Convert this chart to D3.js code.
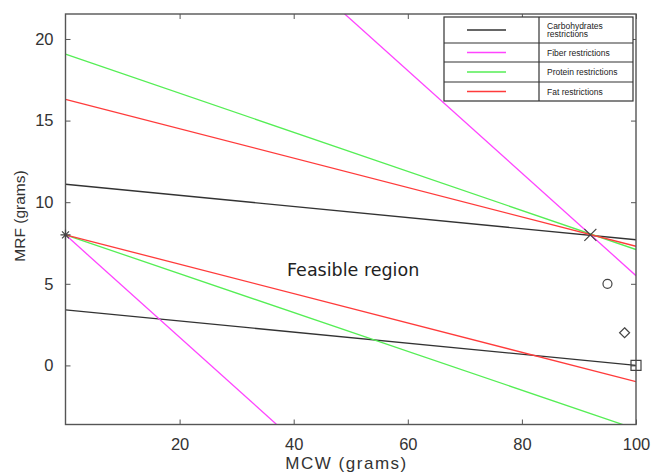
<!DOCTYPE html>
<html>
<head>
<meta charset="utf-8">
<script src="https://cdn.jsdelivr.net/npm/d3@7"></script>
<style>
  body { margin: 0; background: #fff; }
  svg { display: block; }
</style>
</head>
<body>
<svg id="chart" width="651" height="473"></svg>
<script>
// restriction lines, each given by its value at MCW = 0 and MCW = 100
const categories = ["Carbohydrates restrictions", "Fiber restrictions", "Protein restrictions", "Fat restrictions"];
const lowerAt0 = [3.4, 8, 8, 8];
const lowerAt100 = [0, -23.4, -3.9, -1.0];
const upperAt0 = [11.1, 36.9, 19.07, 16.3];
const upperAt100 = [7.7, 5.5, 7.1, 7.3];
const lineColors = ["#333333", "#ff44ff", "#55ee55", "#ff3b3b"];

// marked points
const pointX = [0, 92, 95, 98, 100];
const pointY = [8, 8, 5, 2, 0];
const pointSymbols = ["asterisk", "cross", "circle", "diamond", "square"];

const xTicks = [20, 40, 60, 80, 100];
const yTicks = [0, 5, 10, 15, 20];

const svg = d3.select("#chart");
const plotLeft = 65.5, plotRight = 636, plotTop = 14, plotBottom = 424.5;
const sansFont = "'Liberation Sans', Arial, Helvetica, sans-serif";

const x = d3.scaleLinear().domain([0, 100]).range([plotLeft, plotRight]);
const y = d3.scaleLinear().domain([-3.62, 21.53]).range([plotBottom, plotTop]);

svg.append("defs").append("clipPath").attr("id", "plotclip")
  .append("rect")
  .attr("x", plotLeft).attr("y", plotTop)
  .attr("width", plotRight - plotLeft).attr("height", plotBottom - plotTop);

const axisColor = "#555";
const labelColor = "#333";

// axes (ticks point inward, mirrored on top/right)
function styleAxis(g) {
  g.select(".domain").remove();
  g.attr("font-family", null).attr("font-size", null);
  g.selectAll(".tick line").attr("stroke", axisColor).attr("stroke-width", 1);
  g.selectAll(".tick text")
    .attr("fill", labelColor)
    .style("font-family", sansFont)
    .style("font-size", "16.5px");
}

svg.append("g")
  .attr("transform", `translate(0,${plotBottom})`)
  .call(d3.axisBottom(x).tickValues(xTicks).tickSize(-5).tickPadding(14))
  .call(styleAxis);

svg.append("g")
  .attr("transform", `translate(0,${plotTop})`)
  .call(d3.axisTop(x).tickValues(xTicks).tickSize(-5).tickFormat(""))
  .call(styleAxis);

svg.append("g")
  .attr("transform", `translate(${plotLeft},0)`)
  .call(d3.axisLeft(y).tickValues(yTicks).tickSize(-5).tickPadding(12))
  .call(styleAxis);

svg.append("g")
  .attr("transform", `translate(${plotRight},0)`)
  .call(d3.axisRight(y).tickValues(yTicks).tickSize(-5).tickFormat(""))
  .call(styleAxis);

// restriction lines
const lines = [];
categories.forEach((c, i) => {
  lines.push({ y0: lowerAt0[i], y1: lowerAt100[i], color: lineColors[i] });
  lines.push({ y0: upperAt0[i], y1: upperAt100[i], color: lineColors[i] });
});

svg.append("g")
  .attr("clip-path", "url(#plotclip)")
  .selectAll("line")
  .data(lines)
  .enter().append("line")
  .attr("x1", x(0))
  .attr("y1", d => y(d.y0))
  .attr("x2", x(100))
  .attr("y2", d => y(d.y1))
  .attr("stroke", d => d.color)
  .attr("stroke-width", 1.3);

// frame
svg.append("rect")
  .attr("x", plotLeft).attr("y", plotTop)
  .attr("width", plotRight - plotLeft).attr("height", plotBottom - plotTop)
  .attr("fill", "none")
  .attr("stroke", axisColor)
  .attr("stroke-width", 1.4);

// point markers
const symbolPath = {
  asterisk: "M-5,0H5M0,-5V5M-3.5,-3.5L3.5,3.5M-3.5,3.5L3.5,-3.5",
  cross: "M-6,-6L6,6M-6,6L6,-6",
  circle: "M4.5,0A4.5,4.5 0 1,1 -4.5,0A4.5,4.5 0 1,1 4.5,0Z",
  diamond: "M0,-5L5,0L0,5L-5,0Z",
  square: "M-5,-5H5V5H-5Z"
};

svg.append("g")
  .selectAll("path")
  .data(pointX.map((v, i) => ({ x: v, y: pointY[i], s: pointSymbols[i] })))
  .enter().append("path")
  .attr("transform", d => `translate(${x(d.x)},${y(d.y)})`)
  .attr("d", d => symbolPath[d.s])
  .attr("fill", "none")
  .attr("stroke", "#444")
  .attr("stroke-width", 1.2);

// axis titles
svg.append("text")
  .attr("x", (plotLeft + plotRight) / 2 - 5)
  .attr("y", 469)
  .attr("text-anchor", "middle")
  .attr("fill", labelColor)
  .style("font-family", sansFont)
  .style("font-size", "17px")
  .attr("textLength", 121)
  .text("MCW (grams)");

svg.append("text")
  .attr("transform", "translate(25,216) rotate(-90)")
  .attr("text-anchor", "middle")
  .attr("fill", labelColor)
  .style("font-family", sansFont)
  .style("font-size", "15.5px")
  .text("MRF (grams)");

svg.append("text")
  .attr("x", 287)
  .attr("y", 276)
  .attr("fill", "#222")
  .style("font-family", "'DejaVu Sans', sans-serif")
  .style("font-size", "17.5px")
  .text("Feasible region");

// legend table
const lg = svg.append("g");
const lgLeft = 444, lgRight = 633, lgDiv = 539;
const rowEdges = [17, 43, 62, 82, 101];

lg.append("rect")
  .attr("x", lgLeft).attr("y", rowEdges[0])
  .attr("width", lgRight - lgLeft).attr("height", rowEdges[4] - rowEdges[0])
  .attr("fill", "#fff")
  .attr("stroke", "#333")
  .attr("stroke-width", 1.2);

lg.append("line")
  .attr("x1", lgDiv).attr("x2", lgDiv)
  .attr("y1", rowEdges[0]).attr("y2", rowEdges[4])
  .attr("stroke", "#333").attr("stroke-width", 1.2);

lg.selectAll(".rowline")
  .data(rowEdges.slice(1, 4))
  .enter().append("line")
  .attr("x1", lgLeft).attr("x2", lgRight)
  .attr("y1", d => d).attr("y2", d => d)
  .attr("stroke", "#333").attr("stroke-width", 1.2);

categories.forEach((c, i) => {
  const mid = (rowEdges[i] + rowEdges[i + 1]) / 2;
  lg.append("line")
    .attr("x1", 467).attr("x2", 506)
    .attr("y1", mid).attr("y2", mid)
    .attr("stroke", lineColors[i])
    .attr("stroke-width", 1.3);
  const words = c === "Carbohydrates restrictions" ? ["Carbohydrates", "restrictions"] : [c];
  const t = lg.append("text")
    .attr("x", 547)
    .attr("fill", "#222")
    .style("font-family", sansFont)
    .style("font-size", "8.5px");
  words.forEach((w, j) => {
    t.append("tspan")
      .attr("x", 547)
      .attr("y", mid + 3 + (j - (words.length - 1) / 2) * 8.5)
      .text(w);
  });
});
</script>
</body>
</html>
